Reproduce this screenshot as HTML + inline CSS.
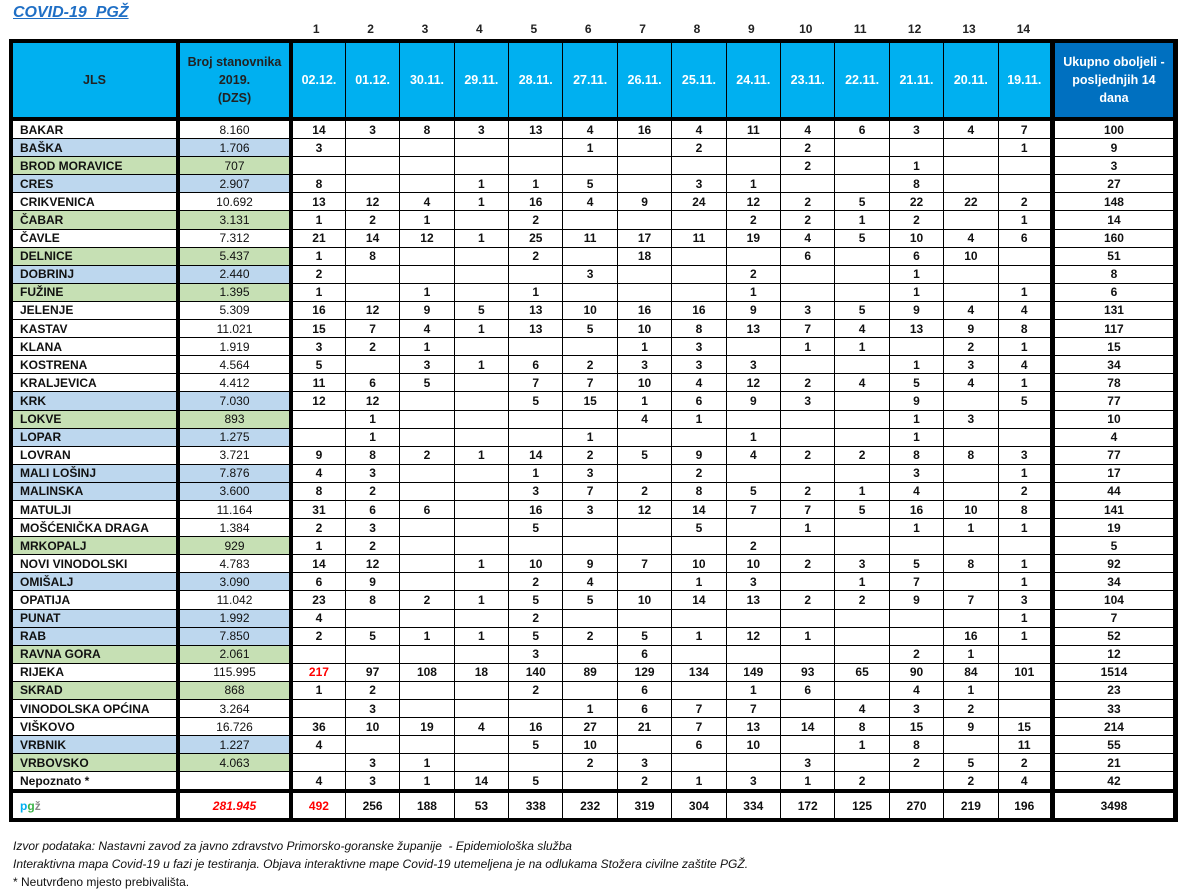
<!DOCTYPE html>
<html><head><meta charset="utf-8"><style>
body{margin:0;width:1186px;height:894px;background:#fff;font-family:"Liberation Sans",sans-serif;position:relative;overflow:hidden}
.title{position:absolute;left:13px;top:4px;font-size:16px;font-weight:bold;font-style:italic;color:#1F6FC5;text-decoration:underline}
.nums{position:absolute;top:22px;left:289px;font-size:12px;font-weight:bold;color:#222}
.nums span{position:absolute;width:54.4px;text-align:center;top:0}
table{position:absolute;left:9px;top:39px;width:1164px;border-collapse:collapse;table-layout:fixed;font-size:12px;font-weight:bold;color:#111}
td{border:1px solid #000;text-align:center;padding:0;height:17.1px;line-height:16px;white-space:nowrap;overflow:hidden}
tr.h td{height:74px;background:#00B0F0;color:#fff;line-height:18px;font-size:12.5px}
tr.h td.d{color:#222}
tr.h td.u{background:#0070C0}
td.n{text-align:left;padding-left:7px}
td.p{font-weight:normal}
.b td.n,.b td.p{background:#BDD7EE}
.g td.n,.g td.p{background:#C6E0B4}
td:nth-child(1){border-left:4px solid #000}
td:nth-child(2),td:nth-child(3){border-left:4px solid #000}
td:nth-child(17){border-left:5px solid #000;border-right:5px solid #000}
tr.h td{border-top:4px solid #000;border-bottom:4px solid #000}
tr.t td{border-top:4px solid #000;border-bottom:4px solid #000;height:25px}
.r{color:#f00}
.foot{position:absolute;left:13px;font-size:12px;color:#111}
</style></head><body>
<div class="title">COVID-19&nbsp; PGŽ</div>
<div class="nums">
<span style="left:0">1</span><span style="left:54.4px">2</span><span style="left:108.8px">3</span><span style="left:163.2px">4</span><span style="left:217.6px">5</span><span style="left:272px">6</span><span style="left:326.4px">7</span><span style="left:380.8px">8</span><span style="left:435.2px">9</span><span style="left:489.6px">10</span><span style="left:544px">11</span><span style="left:598.4px">12</span><span style="left:652.8px">13</span><span style="left:707.2px">14</span>
</div>
<table>
<colgroup><col style="width:167px"><col style="width:113px"><col span="14" style="width:54.4px"><col style="width:123px"></colgroup>
<tr class="h"><td class="d">JLS</td><td class="d">Broj stanovnika<br>2019.<br>(DZS)</td><td>02.12.</td><td>01.12.</td><td>30.11.</td><td>29.11.</td><td>28.11.</td><td>27.11.</td><td>26.11.</td><td>25.11.</td><td>24.11.</td><td>23.11.</td><td>22.11.</td><td>21.11.</td><td>20.11.</td><td>19.11.</td><td class="u">Ukupno oboljeli -<br>posljednjih 14<br>dana</td></tr>
<tr><td class="n">BAKAR</td><td class="p">8.160</td><td>14</td><td>3</td><td>8</td><td>3</td><td>13</td><td>4</td><td>16</td><td>4</td><td>11</td><td>4</td><td>6</td><td>3</td><td>4</td><td>7</td><td>100</td></tr>
<tr class="b"><td class="n">BAŠKA</td><td class="p">1.706</td><td>3</td><td></td><td></td><td></td><td></td><td>1</td><td></td><td>2</td><td></td><td>2</td><td></td><td></td><td></td><td>1</td><td>9</td></tr>
<tr class="g"><td class="n">BROD MORAVICE</td><td class="p">707</td><td></td><td></td><td></td><td></td><td></td><td></td><td></td><td></td><td></td><td>2</td><td></td><td>1</td><td></td><td></td><td>3</td></tr>
<tr class="b"><td class="n">CRES</td><td class="p">2.907</td><td>8</td><td></td><td></td><td>1</td><td>1</td><td>5</td><td></td><td>3</td><td>1</td><td></td><td></td><td>8</td><td></td><td></td><td>27</td></tr>
<tr><td class="n">CRIKVENICA</td><td class="p">10.692</td><td>13</td><td>12</td><td>4</td><td>1</td><td>16</td><td>4</td><td>9</td><td>24</td><td>12</td><td>2</td><td>5</td><td>22</td><td>22</td><td>2</td><td>148</td></tr>
<tr class="g"><td class="n">ČABAR</td><td class="p">3.131</td><td>1</td><td>2</td><td>1</td><td></td><td>2</td><td></td><td></td><td></td><td>2</td><td>2</td><td>1</td><td>2</td><td></td><td>1</td><td>14</td></tr>
<tr><td class="n">ČAVLE</td><td class="p">7.312</td><td>21</td><td>14</td><td>12</td><td>1</td><td>25</td><td>11</td><td>17</td><td>11</td><td>19</td><td>4</td><td>5</td><td>10</td><td>4</td><td>6</td><td>160</td></tr>
<tr class="g"><td class="n">DELNICE</td><td class="p">5.437</td><td>1</td><td>8</td><td></td><td></td><td>2</td><td></td><td>18</td><td></td><td></td><td>6</td><td></td><td>6</td><td>10</td><td></td><td>51</td></tr>
<tr class="b"><td class="n">DOBRINJ</td><td class="p">2.440</td><td>2</td><td></td><td></td><td></td><td></td><td>3</td><td></td><td></td><td>2</td><td></td><td></td><td>1</td><td></td><td></td><td>8</td></tr>
<tr class="g"><td class="n">FUŽINE</td><td class="p">1.395</td><td>1</td><td></td><td>1</td><td></td><td>1</td><td></td><td></td><td></td><td>1</td><td></td><td></td><td>1</td><td></td><td>1</td><td>6</td></tr>
<tr><td class="n">JELENJE</td><td class="p">5.309</td><td>16</td><td>12</td><td>9</td><td>5</td><td>13</td><td>10</td><td>16</td><td>16</td><td>9</td><td>3</td><td>5</td><td>9</td><td>4</td><td>4</td><td>131</td></tr>
<tr><td class="n">KASTAV</td><td class="p">11.021</td><td>15</td><td>7</td><td>4</td><td>1</td><td>13</td><td>5</td><td>10</td><td>8</td><td>13</td><td>7</td><td>4</td><td>13</td><td>9</td><td>8</td><td>117</td></tr>
<tr><td class="n">KLANA</td><td class="p">1.919</td><td>3</td><td>2</td><td>1</td><td></td><td></td><td></td><td>1</td><td>3</td><td></td><td>1</td><td>1</td><td></td><td>2</td><td>1</td><td>15</td></tr>
<tr><td class="n">KOSTRENA</td><td class="p">4.564</td><td>5</td><td></td><td>3</td><td>1</td><td>6</td><td>2</td><td>3</td><td>3</td><td>3</td><td></td><td></td><td>1</td><td>3</td><td>4</td><td>34</td></tr>
<tr><td class="n">KRALJEVICA</td><td class="p">4.412</td><td>11</td><td>6</td><td>5</td><td></td><td>7</td><td>7</td><td>10</td><td>4</td><td>12</td><td>2</td><td>4</td><td>5</td><td>4</td><td>1</td><td>78</td></tr>
<tr class="b"><td class="n">KRK</td><td class="p">7.030</td><td>12</td><td>12</td><td></td><td></td><td>5</td><td>15</td><td>1</td><td>6</td><td>9</td><td>3</td><td></td><td>9</td><td></td><td>5</td><td>77</td></tr>
<tr class="g"><td class="n">LOKVE</td><td class="p">893</td><td></td><td>1</td><td></td><td></td><td></td><td></td><td>4</td><td>1</td><td></td><td></td><td></td><td>1</td><td>3</td><td></td><td>10</td></tr>
<tr class="b"><td class="n">LOPAR</td><td class="p">1.275</td><td></td><td>1</td><td></td><td></td><td></td><td>1</td><td></td><td></td><td>1</td><td></td><td></td><td>1</td><td></td><td></td><td>4</td></tr>
<tr><td class="n">LOVRAN</td><td class="p">3.721</td><td>9</td><td>8</td><td>2</td><td>1</td><td>14</td><td>2</td><td>5</td><td>9</td><td>4</td><td>2</td><td>2</td><td>8</td><td>8</td><td>3</td><td>77</td></tr>
<tr class="b"><td class="n">MALI LOŠINJ</td><td class="p">7.876</td><td>4</td><td>3</td><td></td><td></td><td>1</td><td>3</td><td></td><td>2</td><td></td><td></td><td></td><td>3</td><td></td><td>1</td><td>17</td></tr>
<tr class="b"><td class="n">MALINSKA</td><td class="p">3.600</td><td>8</td><td>2</td><td></td><td></td><td>3</td><td>7</td><td>2</td><td>8</td><td>5</td><td>2</td><td>1</td><td>4</td><td></td><td>2</td><td>44</td></tr>
<tr><td class="n">MATULJI</td><td class="p">11.164</td><td>31</td><td>6</td><td>6</td><td></td><td>16</td><td>3</td><td>12</td><td>14</td><td>7</td><td>7</td><td>5</td><td>16</td><td>10</td><td>8</td><td>141</td></tr>
<tr><td class="n">MOŠĆENIČKA DRAGA</td><td class="p">1.384</td><td>2</td><td>3</td><td></td><td></td><td>5</td><td></td><td></td><td>5</td><td></td><td>1</td><td></td><td>1</td><td>1</td><td>1</td><td>19</td></tr>
<tr class="g"><td class="n">MRKOPALJ</td><td class="p">929</td><td>1</td><td>2</td><td></td><td></td><td></td><td></td><td></td><td></td><td>2</td><td></td><td></td><td></td><td></td><td></td><td>5</td></tr>
<tr><td class="n">NOVI VINODOLSKI</td><td class="p">4.783</td><td>14</td><td>12</td><td></td><td>1</td><td>10</td><td>9</td><td>7</td><td>10</td><td>10</td><td>2</td><td>3</td><td>5</td><td>8</td><td>1</td><td>92</td></tr>
<tr class="b"><td class="n">OMIŠALJ</td><td class="p">3.090</td><td>6</td><td>9</td><td></td><td></td><td>2</td><td>4</td><td></td><td>1</td><td>3</td><td></td><td>1</td><td>7</td><td></td><td>1</td><td>34</td></tr>
<tr><td class="n">OPATIJA</td><td class="p">11.042</td><td>23</td><td>8</td><td>2</td><td>1</td><td>5</td><td>5</td><td>10</td><td>14</td><td>13</td><td>2</td><td>2</td><td>9</td><td>7</td><td>3</td><td>104</td></tr>
<tr class="b"><td class="n">PUNAT</td><td class="p">1.992</td><td>4</td><td></td><td></td><td></td><td>2</td><td></td><td></td><td></td><td></td><td></td><td></td><td></td><td></td><td>1</td><td>7</td></tr>
<tr class="b"><td class="n">RAB</td><td class="p">7.850</td><td>2</td><td>5</td><td>1</td><td>1</td><td>5</td><td>2</td><td>5</td><td>1</td><td>12</td><td>1</td><td></td><td></td><td>16</td><td>1</td><td>52</td></tr>
<tr class="g"><td class="n">RAVNA GORA</td><td class="p">2.061</td><td></td><td></td><td></td><td></td><td>3</td><td></td><td>6</td><td></td><td></td><td></td><td></td><td>2</td><td>1</td><td></td><td>12</td></tr>
<tr><td class="n">RIJEKA</td><td class="p">115.995</td><td class="r">217</td><td>97</td><td>108</td><td>18</td><td>140</td><td>89</td><td>129</td><td>134</td><td>149</td><td>93</td><td>65</td><td>90</td><td>84</td><td>101</td><td>1514</td></tr>
<tr class="g"><td class="n">SKRAD</td><td class="p">868</td><td>1</td><td>2</td><td></td><td></td><td>2</td><td></td><td>6</td><td></td><td>1</td><td>6</td><td></td><td>4</td><td>1</td><td></td><td>23</td></tr>
<tr><td class="n">VINODOLSKA OPĆINA</td><td class="p">3.264</td><td></td><td>3</td><td></td><td></td><td></td><td>1</td><td>6</td><td>7</td><td>7</td><td></td><td>4</td><td>3</td><td>2</td><td></td><td>33</td></tr>
<tr><td class="n">VIŠKOVO</td><td class="p">16.726</td><td>36</td><td>10</td><td>19</td><td>4</td><td>16</td><td>27</td><td>21</td><td>7</td><td>13</td><td>14</td><td>8</td><td>15</td><td>9</td><td>15</td><td>214</td></tr>
<tr class="b"><td class="n">VRBNIK</td><td class="p">1.227</td><td>4</td><td></td><td></td><td></td><td>5</td><td>10</td><td></td><td>6</td><td>10</td><td></td><td>1</td><td>8</td><td></td><td>11</td><td>55</td></tr>
<tr class="g"><td class="n">VRBOVSKO</td><td class="p">4.063</td><td></td><td>3</td><td>1</td><td></td><td></td><td>2</td><td>3</td><td></td><td></td><td>3</td><td></td><td>2</td><td>5</td><td>2</td><td>21</td></tr>
<tr><td class="n">Nepoznato *</td><td class="p"></td><td>4</td><td>3</td><td>1</td><td>14</td><td>5</td><td></td><td>2</td><td>1</td><td>3</td><td>1</td><td>2</td><td></td><td>2</td><td>4</td><td>42</td></tr>
<tr class="t"><td class="n"><span style="color:#00B0F0">p</span><span style="color:#3CB34A">g</span><span style="color:#888">ž</span></td><td class="p r" style="font-style:italic;font-weight:bold">281.945</td><td class="r">492</td><td>256</td><td>188</td><td>53</td><td>338</td><td>232</td><td>319</td><td>304</td><td>334</td><td>172</td><td>125</td><td>270</td><td>219</td><td>196</td><td>3498</td></tr>
</table>
<div class="foot" style="top:839px;font-style:italic">Izvor podataka: Nastavni zavod za javno zdravstvo Primorsko-goranske županije&nbsp; - Epidemiološka služba</div>
<div class="foot" style="top:857px;font-style:italic">Interaktivna mapa Covid-19 u fazi je testiranja. Objava interaktivne mape Covid-19 utemeljena je na odlukama Stožera civilne zaštite PGŽ.</div>
<div class="foot" style="top:875px">* Neutvrđeno mjesto prebivališta.</div>
</body></html>
